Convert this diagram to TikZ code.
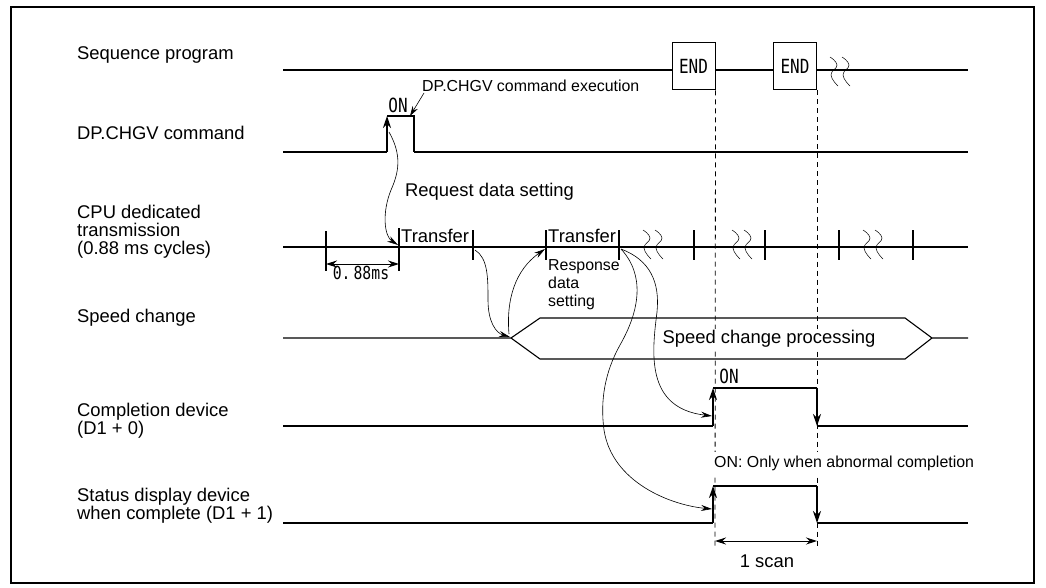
\documentclass[tikz,border=0pt]{standalone}
\usepackage{fontspec}
\setmainfont{Liberation Sans}
\newfontfamily\gothic[FakeStretch=0.82]{DejaVu Sans Mono}
\usetikzlibrary{arrows.meta}
\newcommand\squigpair[2]{%
  \draw[squigline] plot[smooth,tension=0.8] coordinates {({#1-5},{#2-15}) ({#1+2},{#2-7}) ({#1-4},{#2+3}) ({#1+3},{#2+14})};
  \draw[squigline] plot[smooth,tension=0.8] coordinates {({#1+7},{#2-15}) ({#1+14},{#2-7}) ({#1+8},{#2+3}) ({#1+15},{#2+14})};}
\begin{document}
\begin{tikzpicture}[x=1pt,y=-1pt,
  every node/.style={font=\fontsize{18.4}{18}\selectfont, inner sep=0pt},
  lbl/.style={anchor=west, align=left},
  thick sig/.style={line width=1.8pt},
  thin sig/.style={line width=1.1pt},
  edge up/.style={line width=1.8pt, -{Stealth[length=12pt,width=8pt]}},
  edge down/.style={line width=1.1pt, -{Stealth[length=12pt,width=8pt]}},
  curvy/.style={line width=0.6pt, -{Stealth[length=11pt,width=6pt]}},
  tickmark/.style={line width=1.7pt},
  squigline/.style={line width=0.5pt},
  gothictext/.style={font=\fontsize{19.5}{19.5}\selectfont\gothic},
  small/.style={font=\fontsize{15.9}{18}\selectfont},
  dim/.style={line width=1pt, {Stealth[length=11pt,width=7pt]}-{Stealth[length=11pt,width=7pt]}},
  dashline/.style={line width=0.8pt, dash pattern=on 5pt off 4pt},
  endbox/.style={draw, line width=1pt, minimum width=43pt, minimum height=47pt, gothictext}
]
\useasboundingbox (0,0) rectangle (1046,588);
\draw[line width=1.4pt] (11,7) rectangle (1034,583);

% left labels
\node[lbl] (l1) at (77,55) {Sequence program};
\node[lbl] (l2) at (77,133) {DP.CHGV command};
\node[lbl] (l3) at (77,232) {CPU dedicated\\transmission\\(0.88 ms cycles)};
\node[lbl] (l4) at (77,318) {Speed change};
\node[lbl] (l5) at (77,421) {Completion device\\(D1 + 0)};
\node[lbl] (l6) at (77,506) {Status display device\\when complete (D1 + 1)};

% dashed lines
\node[endbox] (end1) at (693.5,66.5) {END};
\node[endbox] (end2) at (795,66.5) {END};
\draw[dashline] (end1.south east) -- (715,548);
\draw[dashline] (end2.south east) -- (817,548);

% Sequence program
\draw[thin sig] (283,70) -- (end1.west |- 0,70);
\draw[thin sig] (end1.east |- 0,70) -- (end2.west |- 0,70);
\draw[thin sig] (end2.east |- 0,70) -- (968,70);
\squigpair{835}{72}

% DP.CHGV command
\coordinate (r0) at (387,152);
\coordinate (r1) at (387,116);
\coordinate (f1) at (414,116);
\draw[thick sig] (283,152) -- (r0);
\draw[edge up] (r0) -- (r1);
\draw[thin sig] (r1) -- (f1) -- (414,152);
\draw[thick sig] (414,152) -- (968,152);
\node[gothictext] (on1) at (398,105) {ON};
\node[small, anchor=west] (exec) at (422,86) {DP.CHGV command execution};
\coordinate (execp) at (410,116);
\draw[line width=0.6pt, -{Stealth[length=10pt,width=6pt]}] (424,93) -- (execp);

% CPU transmission line
\draw[thick sig] (283,247) -- (968,247);
\draw[tickmark] (326,231) -- (326,271);
\draw[tickmark] (399,228) -- (399,271);
\foreach \x in {473,546,619,694,765,913} \draw[tickmark] (\x,230) -- (\x,260);
\draw[line width=2.5pt] (839,230) -- (839,260);
\squigpair{648}{245}
\squigpair{737}{245}
\squigpair{868}{245}
\node[anchor=south west] (tr1) at (401,243) {Transfer};
\node[anchor=south west] (tr2) at (548,243) {Transfer};
\draw[dim] (326,264) -- (399,264);
\node[gothictext, font=\fontsize{18}{18}\selectfont\gothic] (ms) at (361,273) {0.\,88ms};
\node[anchor=west] (req) at (405,192) {Request data setting};
\node[small, anchor=north west, align=left] (resp) at (548,259) {Response\\data\\setting};

% Speed change
\coordinate (sa) at (511,338);
\draw[thin sig] (283,338) -- (sa) -- (540,318) -- (905,318) -- (932,338) -- (968,338);
\draw[thin sig] (sa) -- (540,359) -- (905,359) -- (932,338);
\node[fill=white, inner sep=1pt] (scp) at (769,339) {Speed change processing};

% Completion device
\coordinate (c0) at (713,426);
\coordinate (c1) at (713,388);
\coordinate (c2) at (817,388);
\coordinate (c3) at (817,426);
\draw[thin sig] (283,426) -- (c0);
\draw[edge up] (c0) -- (c1);
\draw[thin sig] (c1) -- (c2);
\draw[edge down] (c2) -- (c3);
\draw[thick sig] (c3) -- (968,426);
\node[gothictext] (on2) at (729,376) {ON};

% Status display device
\coordinate (s0) at (713,523);
\coordinate (s1) at (713,486);
\coordinate (s2) at (817,486);
\coordinate (s3) at (817,523);
\draw[thick sig] (283,523) -- (s0);
\draw[edge up] (s0) -- (s1);
\draw[thin sig] (s1) -- (s2);
\draw[edge down] (s2) -- (s3);
\draw[thin sig] (s3) -- (968,523);
\node[small, anchor=west, fill=white, inner ysep=4pt, inner xsep=0pt] (abn) at (714,463) {ON: Only when abnormal completion};

% 1 scan
\draw[dim] (715,541) -- (817,541);
\node (scan) at (767,561) {1 scan};

% curved arrows
\draw[curvy] (389,132) .. controls (402,155) and (399,172) .. (391,190) .. controls (382,212) and (384,236) .. (398,245);
\draw[curvy] (475,250) .. controls (488,258) and (488,278) .. (488,300) .. controls (488,322) and (496,333) .. (510,337);
\draw[curvy] (509,334) .. controls (506,300) and (515,270) .. (545,249);
\draw[curvy] (621,249) .. controls (650,260) and (660,282) .. (657,312) .. controls (652,352) and (645,408) .. (712,416);
\draw[curvy] (621,249) .. controls (645,275) and (640,310) .. (620,345) .. controls (605,372) and (600,400) .. (604,430) .. controls (612,482) and (670,505) .. (712,509);
\end{tikzpicture}
\end{document}
